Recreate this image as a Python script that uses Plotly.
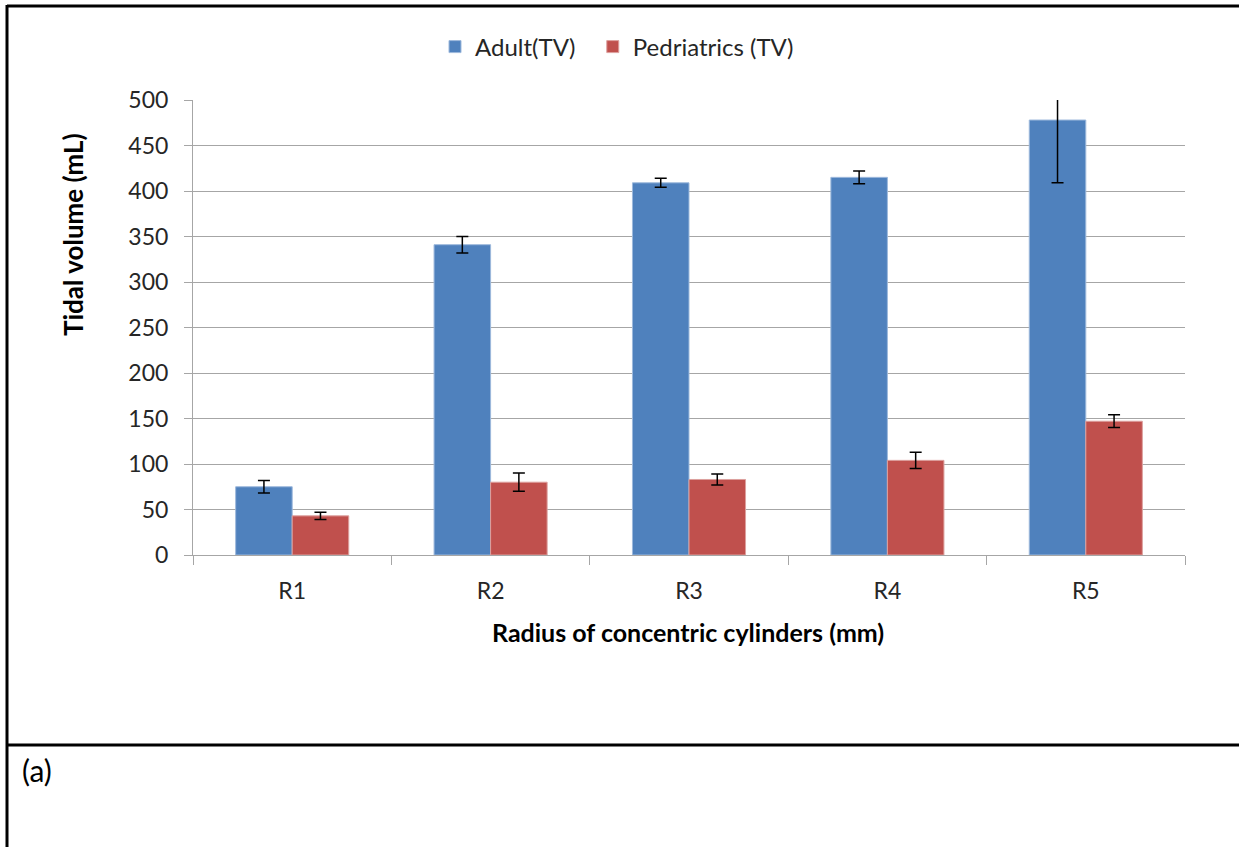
import plotly.graph_objects as go

categories = ["R1", "R2", "R3", "R4", "R5"]
adult_tv = [75, 341, 409, 415, 478]
adult_err = [7, 9, 5, 7, 69]
pediatric_tv = [43, 80, 83, 104, 147]
pediatric_err = [4, 10, 6, 9, 7]
y_ticks = [0, 50, 100, 150, 200, 250, 300, 350, 400, 450, 500]

FONT = "Lato"
W, H = 1239, 847
L, R, T, B = 193, 54, 100, 292
pw, ph = W - L - R, H - T - B


def px_x(x):
    return (x - L) / pw


def px_y(y):
    return (H - B - y) / ph


NB = "\u00a0"

fig = go.Figure()
fig.add_trace(go.Bar(
    x=categories, y=adult_tv, name="Adult(TV)" + NB * 2,
    marker=dict(color="#4F81BD", line=dict(color="#9DB9DC", width=1)),
    error_y=dict(type="data", array=adult_err, color="black", thickness=1.5, width=6),
))
fig.add_trace(go.Bar(
    x=categories, y=pediatric_tv, name="Pedriatrics (TV)",
    marker=dict(color="#C0504D", line=dict(color="#DDA09E", width=1)),
    error_y=dict(type="data", array=pediatric_err, color="black", thickness=1.5, width=6),
))

axis_gray = "#A6A6A6"
fig.update_layout(
    width=W, height=H,
    margin=dict(l=L, r=R, t=T, b=B, autoexpand=False),
    paper_bgcolor="white", plot_bgcolor="white",
    font=dict(family=FONT, size=22, color="#262626"),
    barmode="group", bargap=0.43, bargroupgap=0,
    showlegend=True,
    legend=dict(orientation="h", x=px_x(435), xanchor="left", y=px_y(47), yanchor="middle",
                font=dict(family=FONT, size=24, color="#262626"), itemwidth=30,
                traceorder="normal", bgcolor="rgba(0,0,0,0)"),
    xaxis=dict(type="category", showline=True, linecolor=axis_gray, linewidth=1,
               ticks="outside", tickson="boundaries", ticklen=9, tickcolor=axis_gray,
               ticklabelstandoff=15,
               showgrid=False, tickfont=dict(family=FONT, size=23, color="#262626")),
    yaxis=dict(range=[0, 500], tickvals=y_ticks, showline=True, linecolor=axis_gray, linewidth=1,
               ticks="outside", ticklen=8, tickcolor=axis_gray, ticklabelstandoff=11,
               showgrid=True, gridcolor=axis_gray, gridwidth=1, zeroline=False,
               tickfont=dict(family=FONT, size=23, color="#262626")),
    annotations=[
        dict(text="<b>Tidal volume (mL)</b>", xref="paper", yref="paper", x=px_x(73), y=px_y(235),
             textangle=-90, showarrow=False, xanchor="center", yanchor="middle",
             font=dict(family=FONT, size=26, color="black")),
        dict(text="<b>Radius of concentric cylinders (mm)</b>", xref="paper", yref="paper",
             x=px_x(688), y=px_y(632), showarrow=False, xanchor="center", yanchor="middle",
             font=dict(family=FONT, size=25, color="black")),
        dict(text="(a)", xref="paper", yref="paper", x=px_x(20), y=px_y(770),
             showarrow=False, xanchor="left", yanchor="middle",
             font=dict(family=FONT, size=30, color="black")),
    ],
    shapes=[
        dict(type="line", xref="paper", yref="paper", x0=px_x(7), x1=px_x(W + 5), y0=px_y(6), y1=px_y(6),
             line=dict(color="black", width=3)),
        dict(type="line", xref="paper", yref="paper", x0=px_x(7), x1=px_x(7), y0=px_y(5), y1=px_y(H + 5),
             line=dict(color="black", width=3)),
        dict(type="line", xref="paper", yref="paper", x0=px_x(7), x1=px_x(W + 5), y0=px_y(745), y1=px_y(745),
             line=dict(color="black", width=3)),
    ],
)

fig.write_html("out.html", config={"displayModeBar": False},
               post_script="document.body.style.margin='0';document.body.style.overflow='hidden';")
